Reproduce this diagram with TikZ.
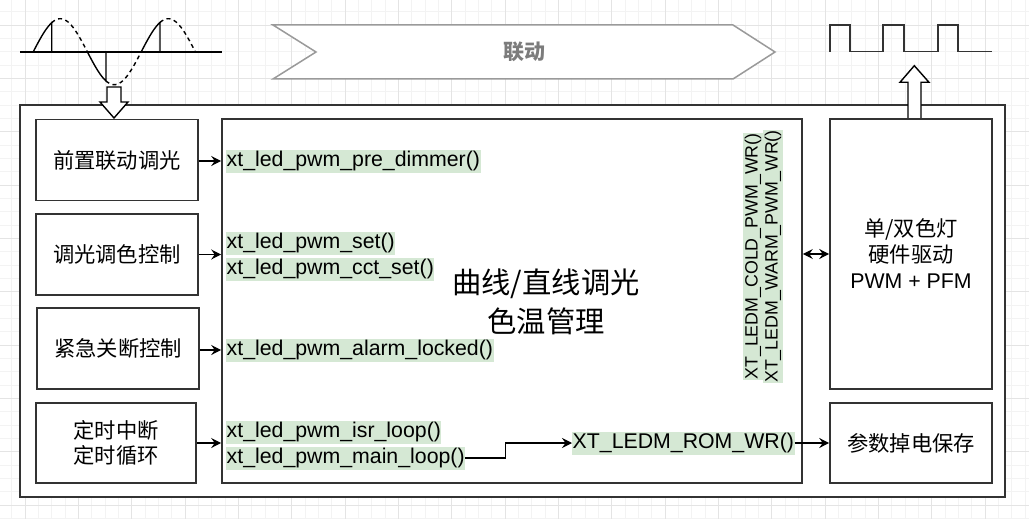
\documentclass[tikz,border=0pt]{standalone}
\usepackage{fontspec}
\setmainfont{Liberation Sans}
\newfontfamily\cjk{Noto Sans CJK SC}
\usetikzlibrary{arrows.meta}
\definecolor{hl}{HTML}{D5E8D4}
\definecolor{bd}{HTML}{333333}
\definecolor{gminor}{HTML}{F3F3F3}
\definecolor{gmajor}{HTML}{E4E4E4}
\definecolor{chev}{HTML}{9A9A9A}
\definecolor{chevtext}{HTML}{7C7C7C}
\newcommand\fszA{\fontsize{21.3}{25.6}\selectfont}
\newcommand\fszB{\fontsize{21.3}{25}\selectfont}
\newcommand\fszC{\fontsize{21.3}{26}\selectfont}
\newcommand\fszBig{\fontsize{29.3}{39}\selectfont}
\newcommand\fszV{\fontsize{17.8}{20}\selectfont}
\tikzset{
  boxn/.style={draw=bd, line width=1.6pt, fill=white, inner sep=0pt, align=center},
  fn/.style={fill=hl, inner xsep=0.5pt, inner ysep=0.5pt, text height=16.5pt, text depth=5.5pt, anchor=west, font=\fszA},
  vt/.style={fill=hl, inner xsep=0.5pt, inner ysep=1pt, text height=13.5pt, text depth=4.3pt, rotate=90, font=\fszV},
  tip/.tip={Stealth[length=10pt,width=10pt,inset=3.5pt]},
  arr/.style={line width=1.3pt, -tip},
  darr/.style={line width=1.3pt, tip-tip},
  solidwave/.style={line width=1.4pt, black},
  dashwave/.style={line width=1.4pt, black, dash pattern=on 4pt off 3.5pt},
  hollow/.style={draw=black, line width=1.4pt, fill=white, line join=miter}
}
\begin{document}
\begin{tikzpicture}[x=1pt,y=-1pt]
\useasboundingbox (0,0) rectangle (1029,519);
\fill[white] (0,0) rectangle (1029,519);
% background grid
\foreach \x in {11.667,25,...,1029} {\draw[gminor, line width=0.7pt] (\x,0) -- (\x,519);}
\foreach \y in {11.667,25,...,519} {\draw[gminor, line width=0.7pt] (0,\y) -- (1029,\y);}
\foreach \x in {25,78.333,...,1029} {\draw[gmajor, line width=0.8pt] (\x,0) -- (\x,519);}
\foreach \y in {25,78.333,...,519} {\draw[gmajor, line width=0.8pt] (0,\y) -- (1029,\y);}

% top-left phase-cut waveform
\draw[line width=1.8pt, black] (20,51.7) -- (222,51.7);
\draw[solidwave] plot[domain=33.3:51.7, samples=20] (\x,{51.7-33*sin((\x-33.3)*3.33333)}) -- (51.7,51.7);
\draw[dashwave] plot[domain=51.7:87.3, samples=30] (\x,{51.7-33*sin((\x-33.3)*3.33333)});
\draw[solidwave] plot[domain=87.3:106, samples=20] (\x,{51.7-33*sin((\x-33.3)*3.33333)}) -- (106,51.7);
\draw[dashwave] plot[domain=106:141.6, samples=30] (\x,{51.7-33*sin((\x-33.3)*3.33333)});
\draw[solidwave] plot[domain=141.6:160, samples=20] (\x,{51.7-33*sin((\x-33.3)*3.33333)}) -- (160,51.7);
\draw[dashwave] plot[domain=160:195, samples=30] (\x,{51.7-33*sin((\x-33.3)*3.33333)});

% top-right square wave
\draw[line width=1.6pt, bd, line join=miter] (830,51.7) -- (830,25) -- (850,25) -- (850,51.7) -- (883,51.7) -- (883,25) -- (904,25) -- (904,51.7) -- (938,51.7) -- (938,25) -- (958,25) -- (958,51.7) -- (992,51.7);

% chevron
\draw[chev, line width=1.5pt, fill=white, line join=miter] (273,25) -- (733,25) -- (775,52) -- (733,79) -- (273,79) -- (316,52) -- cycle;
\node[font=\cjk\bfseries\fontsize{21}{24}\selectfont, text=chevtext] (link) at (524,52) {联动};

% outer frame
\node[boxn, minimum width=985pt, minimum height=392pt] (outer) at (512.5,301) {};

% hollow arrows
\draw[hollow] (107,87) -- (121,87) -- (121,102) -- (128,102) -- (114,118) -- (100,102) -- (107,102) -- cycle;
\draw[hollow] (908,119) -- (908,82.3) -- (900,82.3) -- (914.3,65.7) -- (929,82.3) -- (921,82.3) -- (921,119);

% left boxes
\node[boxn, minimum width=162pt, minimum height=81pt, font=\cjk\fszA] (b1) at (117,160) {前置联动调光};
\node[boxn, minimum width=162pt, minimum height=81pt, font=\cjk\fszA] (b2) at (117,254.5) {调光调色控制};
\node[boxn, minimum width=162pt, minimum height=81pt, font=\cjk\fszA] (b3) at (118,348.5) {紧急关断控制};
\node[boxn, minimum width=160pt, minimum height=80pt, font=\cjk\fszB] (b4) at (116,443) {定时中断\\定时循环};

% centre box
\node[boxn, minimum width=580pt, minimum height=364pt] (c) at (512,301) {};
\node[font=\cjk\fszBig, align=center] (ct) at (546,302) {曲线/直线调光\\色温管理};

% right boxes
\node[boxn, minimum width=162pt, minimum height=270pt, font=\cjk\fszC] (rb) at (911,254) {单/双色灯\\硬件驱动\\{\rmfamily PWM + PFM}};
\node[boxn, minimum width=162pt, minimum height=80pt, font=\cjk\fszA] (rb2) at (911,443) {参数掉电保存};

% function names
\node[fn] (f1) at (226,161) {xt\_led\_pwm\_pre\_dimmer()};
\node[fn] (f2) at (226,243) {xt\_led\_pwm\_set()};
\node[fn] (f3) at (226,269) {xt\_led\_pwm\_cct\_set()};
\node[fn] (f4) at (226,350) {xt\_led\_pwm\_alarm\_locked()};
\node[fn] (f5) at (226,432) {xt\_led\_pwm\_isr\_loop()};
\node[fn] (f6) at (226,458) {xt\_led\_pwm\_main\_loop()};
\node[fn] (rom) at (572,443) {XT\_LEDM\_ROM\_WR()};
\node[vt] (v1) at (753,256.5) {XT\_LEDM\_COLD\_PWM\_WR()};
\node[vt] (v2) at (773,256.5) {XT\_LEDM\_WARM\_PWM\_WR()};

% connectors
\draw[arr] (b1.east |- f1.west) -- (c.west |- f1.west);
\draw[arr] (b2.east) -- (b2.east -| c.west);
\draw[arr] (b3.east |- f4.west) -- (c.west |- f4.west);
\draw[arr] (b4.east) -- (b4.east -| c.west);
\draw[arr] (f6.east) -- ([xshift=40pt]f6.east) |- (rom.west);
\draw[arr] (rom.east) -- (rb2.west);
\draw[darr] (rb.west -| c.east) -- (rb.west);
\end{tikzpicture}
\end{document}
